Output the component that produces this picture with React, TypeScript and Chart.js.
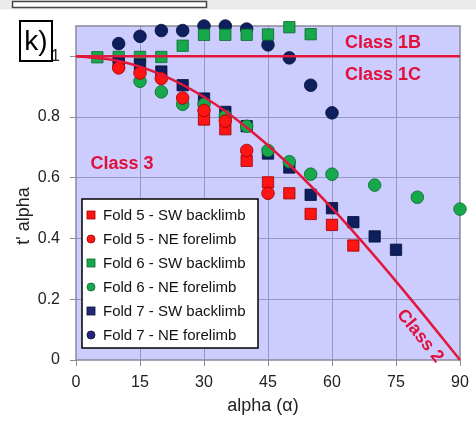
import React, { useEffect, useRef } from "react";
import { Chart, registerables } from "chart.js";

Chart.register(...registerables);

// ---- Data (alpha in degrees, t' alpha) ----
const fold5SW: [number, number][] = [
  [30, 0.792], [35, 0.76], [40, 0.656], [45, 0.585], [50, 0.549], [55, 0.481], [60, 0.445], [65, 0.377],
];
const fold5NE: [number, number][] = [
  [10, 0.962], [15, 0.945], [20, 0.927], [25, 0.863], [30, 0.822], [35, 0.787], [40, 0.69], [45, 0.549],
];
const fold6SW: [number, number][] = [
  [5, 0.997], [10, 0.998], [15, 0.998], [20, 0.998], [25, 1.035], [30, 1.071], [35, 1.071], [40, 1.071],
  [45, 1.072], [50, 1.096], [55, 1.073],
];
const fold6NE: [number, number][] = [
  [15, 0.918], [20, 0.883], [25, 0.842], [30, 0.842], [35, 0.803], [40, 0.77], [45, 0.69], [50, 0.653],
  [55, 0.612], [60, 0.612], [70, 0.576], [80, 0.536], [90, 0.497],
];
const fold7SW: [number, number][] = [
  [10, 0.98], [15, 0.973], [20, 0.95], [25, 0.905], [30, 0.861], [35, 0.817], [40, 0.77], [45, 0.68],
  [50, 0.634], [55, 0.544], [60, 0.5], [65, 0.454], [70, 0.407], [75, 0.363],
];
const fold7NE: [number, number][] = [
  [10, 1.042], [15, 1.066], [20, 1.085], [25, 1.085], [30, 1.1], [35, 1.1], [40, 1.09], [45, 1.038],
  [50, 0.995], [55, 0.905], [60, 0.814],
];
// Class boundary lines
const class1Line: [number, number][] = [[0, 1], [90, 1]];
const class2Curve: [number, number][] = [
  [0, 1], [10, 0.985], [20, 0.94], [30, 0.866], [40, 0.766], [50, 0.643], [60, 0.5], [70, 0.342], [80, 0.174], [90, 0],
];

const xTicks = [0, 15, 30, 45, 60, 75, 90];
const yTicks = [0, 0.2, 0.4, 0.6, 0.8, 1];
const legendLabels = [
  "Fold 5 - SW backlimb",
  "Fold 5 - NE forelimb",
  "Fold 6 - SW backlimb",
  "Fold 6 - NE forelimb",
  "Fold 7 - SW backlimb",
  "Fold 7 - NE forelimb",
];

const RED = "#ff1414";
const RED_B = "#9a0000";
const GREEN = "#17a84c";
const GREEN_B = "#0a6a2c";
const NAVY = "#0d1f5c";
const NAVY_B = "#050f36";
const LINE_RED = "#e3173a";
const FONT = "'Liberation Sans', Arial, Helvetica, sans-serif";

const toPts = (a: [number, number][]) => a.map(([x, y]) => ({ x, y }));

export default function App() {
  const ref = useRef<HTMLCanvasElement | null>(null);

  useEffect(() => {
    document.body.style.margin = "0";
    const canvas = ref.current;
    if (!canvas) return;

    const legendStyles = [
      { shape: "rect", fill: RED, border: RED_B },
      { shape: "circle", fill: RED, border: RED_B },
      { shape: "rect", fill: GREEN, border: GREEN_B },
      { shape: "circle", fill: GREEN, border: GREEN_B },
      { shape: "rect", fill: "#26267a", border: NAVY_B },
      { shape: "circle", fill: "#26267a", border: NAVY_B },
    ];

    const decor = {
      id: "decor",
      beforeDraw(chart: any) {
        const { ctx, width, height, chartArea: ca } = chart;
        ctx.save();
        ctx.fillStyle = "#ffffff";
        ctx.fillRect(0, 0, width, height);
        ctx.fillStyle = "#ebebeb";
        ctx.fillRect(0, 0, width, 9.5);
        ctx.fillStyle = "#ffffff";
        ctx.fillRect(12.5, 1.5, 194, 6);
        ctx.strokeStyle = "#444";
        ctx.lineWidth = 1.5;
        ctx.strokeRect(12.5, 1.5, 194, 6);
        ctx.fillStyle = "#ccccff";
        ctx.fillRect(ca.left, ca.top, ca.right - ca.left, ca.bottom - ca.top);
        ctx.restore();
      },
      beforeDatasetsDraw(chart: any) {
        const { ctx, chartArea: ca } = chart;
        ctx.save();
        ctx.strokeStyle = "#8a8a9a";
        ctx.lineWidth = 1.5;
        ctx.strokeRect(ca.left, ca.top, ca.right - ca.left, ca.bottom - ca.top);
        ctx.restore();
      },
      afterDraw(chart: any) {
        const { ctx } = chart;
        ctx.save();
        // class labels
        ctx.fillStyle = "#e0103a";
        ctx.font = `bold 18px ${FONT}`;
        ctx.textBaseline = "middle";
        ctx.textAlign = "center";
        ctx.fillText("Class 1B", 383, 43);
        ctx.fillText("Class 1C", 383, 75);
        ctx.fillText("Class 3", 122, 164);
        ctx.save();
        ctx.translate(420, 336);
        ctx.rotate((51 * Math.PI) / 180);
        ctx.fillText("Class 2", 0, 0);
        ctx.restore();

        // axis titles
        ctx.fillStyle = "#222";
        ctx.font = `18px ${FONT}`;
        ctx.fillText("alpha (\u03b1)", 263, 406);
        ctx.save();
        ctx.translate(24, 216);
        ctx.rotate(-Math.PI / 2);
        ctx.fillText("t' alpha", 0, 0);
        ctx.restore();

        // k) label box
        ctx.fillStyle = "#ffffff";
        ctx.fillRect(20, 21, 32, 40);
        ctx.strokeStyle = "#000";
        ctx.lineWidth = 2;
        ctx.strokeRect(20, 21, 32, 40);
        ctx.fillStyle = "#000";
        ctx.font = `28px ${FONT}`;
        ctx.textAlign = "center";
        ctx.fillText("k)", 36, 42);

        // legend
        const lx = 82, ly = 199, lw = 176, lh = 149;
        ctx.fillStyle = "#ffffff";
        ctx.fillRect(lx, ly, lw, lh);
        ctx.strokeStyle = "#000";
        ctx.lineWidth = 1.5;
        ctx.strokeRect(lx, ly, lw, lh);
        ctx.font = `15px ${FONT}`;
        ctx.textAlign = "left";
        ctx.textBaseline = "middle";
        legendLabels.forEach((label, i) => {
          const cy = 215 + i * 24;
          const st = legendStyles[i];
          ctx.fillStyle = st.fill;
          ctx.strokeStyle = st.border;
          ctx.lineWidth = 0.8;
          if (st.shape === "rect") {
            ctx.fillRect(87, cy - 4, 8, 8);
            ctx.strokeRect(87, cy - 4, 8, 8);
          } else {
            ctx.beginPath();
            ctx.arc(91, cy, 4, 0, Math.PI * 2);
            ctx.fill();
            ctx.stroke();
          }
          ctx.fillStyle = "#111";
          ctx.fillText(label, 103, cy + 0.5);
        });
        ctx.restore();
      },
    };

    const mk = (data: [number, number][], shape: string, fill: string, border: string, order: number) => ({
      type: "scatter" as const,
      data: toPts(data),
      pointStyle: shape,
      pointRadius: shape === "rect" ? 8 : 6.3,
      backgroundColor: fill,
      borderColor: border,
      pointBorderWidth: 0.8,
      borderWidth: 0.8,
      showLine: false,
      clip: false,
      order,
    });

    const chart = new Chart(canvas, {
      type: "scatter",
      data: {
        datasets: [
          {
            type: "line",
            data: toPts(class1Line),
            borderColor: LINE_RED,
            borderWidth: 2.5,
            pointRadius: 0,
            fill: false,
            clip: false,
            order: -2,
          } as any,
          {
            type: "line",
            data: toPts(class2Curve),
            borderColor: LINE_RED,
            borderWidth: 2.5,
            pointRadius: 0,
            fill: false,
            cubicInterpolationMode: "monotone",
            clip: false,
            order: -1,
          } as any,
          mk(fold5SW, "rect", RED, RED_B, 5),
          mk(fold5NE, "circle", RED, RED_B, 0),
          mk(fold6SW, "rect", GREEN, GREEN_B, 3),
          mk(fold6NE, "circle", GREEN, GREEN_B, 1),
          mk(fold7SW, "rect", NAVY, NAVY_B, 2),
          mk(fold7NE, "circle", NAVY, NAVY_B, 4),
        ] as any,
      },
      options: {
        animation: false,
        responsive: false,
        maintainAspectRatio: false,
        layout: { padding: { left: 0, right: 16, top: 26, bottom: 0 } },
        plugins: {
          legend: { display: false },
          tooltip: { enabled: false },
        },
        scales: {
          x: {
            type: "linear",
            min: 0,
            max: 90,
            afterBuildTicks: (s: any) => {
              s.ticks = xTicks.map((v) => ({ value: v }));
            },
            afterFit: (s: any) => {
              s.height = 64;
            },
            ticks: {
              color: "#222",
              font: { size: 16, family: FONT },
              padding: 7,
              maxRotation: 0,
              autoSkip: false,
            },
            grid: {
              color: (c: any) => (c.tick && (c.tick.value === 0 || c.tick.value === 90) ? "transparent" : "#9696c4"),
              tickColor: "#8a8a9a",
              tickLength: 6,
              lineWidth: 1,
            },
            border: { display: false },
          },
          y: {
            type: "linear",
            min: 0,
            max: 1.1,
            afterBuildTicks: (s: any) => {
              s.ticks = yTicks.map((v) => ({ value: v }));
            },
            afterFit: (s: any) => {
              s.width = 76;
            },
            ticks: {
              color: "#222",
              font: { size: 16, family: FONT },
              padding: 10,
              callback: (v: any) => String(Math.round(Number(v) * 10) / 10),
            },
            grid: {
              color: (c: any) => (c.tick && c.tick.value === 0 ? "transparent" : "#9696c4"),
              tickColor: "#8a8a9a",
              tickLength: 6,
              lineWidth: 1,
            },
            border: { display: false },
          },
        },
      } as any,
      plugins: [decor],
    });

    return () => chart.destroy();
  }, []);

  return (
    <div style={{ width: 476, height: 424 }}>
      <canvas ref={ref} width={476} height={424} style={{ display: "block", width: 476, height: 424 }} />
    </div>
  );
}
